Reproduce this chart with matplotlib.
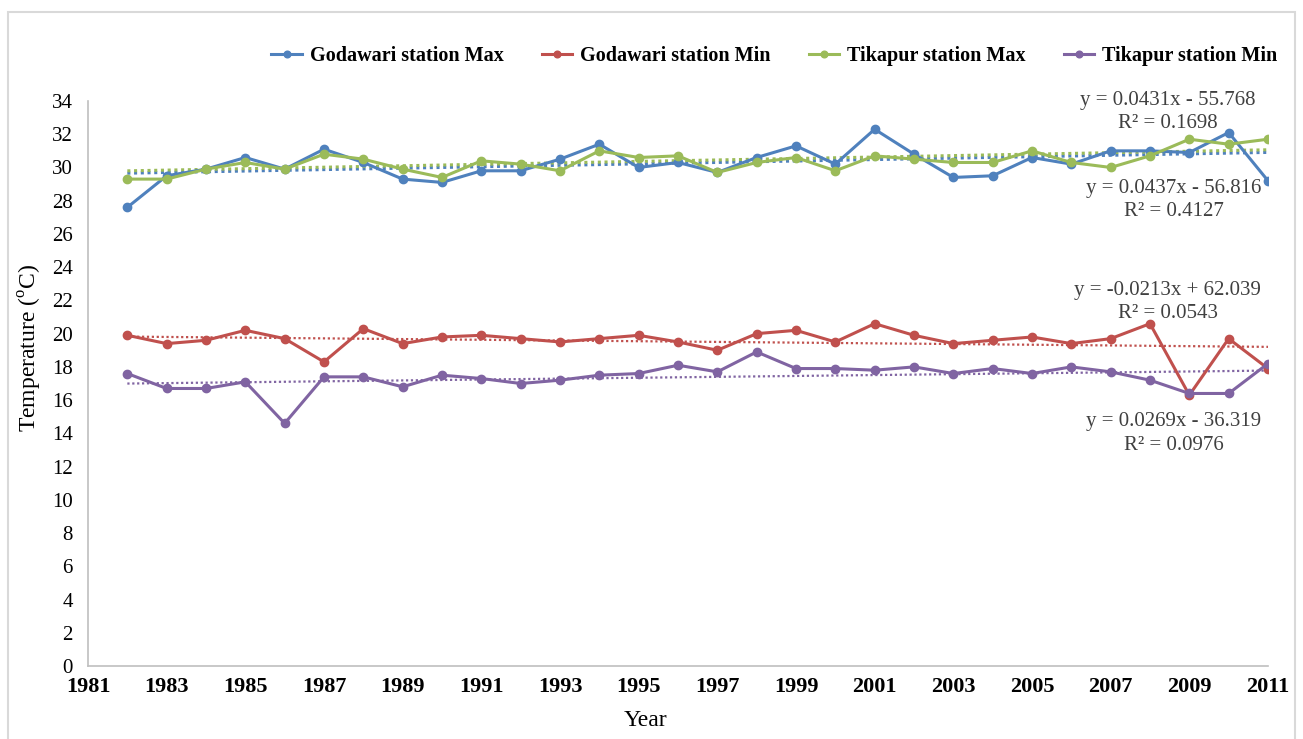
import numpy as np
import matplotlib.pyplot as plt
from matplotlib.patches import Rectangle

# Annual mean temperatures for the two stations, 1982-2011
years = np.arange(1982, 2012)

godawari_max = [27.6, 29.5, 29.9, 30.6, 29.9, 31.1, 30.3, 29.3, 29.1, 29.8,
                29.8, 30.5, 31.4, 30.0, 30.3, 29.7, 30.6, 31.3, 30.2, 32.3,
                30.8, 29.4, 29.5, 30.6, 30.2, 31.0, 31.0, 30.9, 32.1, 29.2]
godawari_min = [19.9, 19.4, 19.6, 20.2, 19.7, 18.3, 20.3, 19.4, 19.8, 19.9,
                19.7, 19.5, 19.7, 19.9, 19.5, 19.0, 20.0, 20.2, 19.5, 20.6,
                19.9, 19.4, 19.6, 19.8, 19.4, 19.7, 20.6, 16.3, 19.7, 17.9]
tikapur_max = [29.3, 29.3, 29.9, 30.3, 29.9, 30.8, 30.5, 29.9, 29.4, 30.4,
               30.2, 29.8, 31.0, 30.6, 30.7, 29.7, 30.3, 30.6, 29.8, 30.7,
               30.5, 30.3, 30.3, 31.0, 30.3, 30.0, 30.7, 31.7, 31.4, 31.7]
tikapur_min = [17.6, 16.7, 16.7, 17.1, 14.6, 17.4, 17.4, 16.8, 17.5, 17.3,
               17.0, 17.2, 17.5, 17.6, 18.1, 17.7, 18.9, 17.9, 17.9, 17.8,
               18.0, 17.6, 17.9, 17.6, 18.0, 17.7, 17.2, 16.4, 16.4, 18.2]

series_names = ["Godawari station Max", "Godawari station Min",
                "Tikapur station Max", "Tikapur station Min"]
series_values = [godawari_max, godawari_min, tikapur_max, tikapur_min]
series_colors = ["#4F81BD", "#C0504D", "#9BBB59", "#8064A2"]

# Linear trend coefficients (slope, intercept) per series
trend_slopes = [0.0431, -0.0213, 0.0437, 0.0269]
trend_intercepts = [-55.768, 62.039, -56.816, -36.319]
trend_r2 = [0.1698, 0.0543, 0.4127, 0.0976]
# where each equation box sits (year, temperature)
label_pos = [(2008.45, 33.36), (2008.45, 21.9), (2008.6, 28.04), (2008.6, 13.99)]

plt.rcParams["font.family"] = ["Liberation Serif", "DejaVu Serif"]
plt.rcParams["mathtext.fontset"] = "custom"
plt.rcParams["mathtext.rm"] = "Liberation Serif"

fig = plt.figure(figsize=(13.03, 7.39), dpi=100)
fig.patches.append(Rectangle((8 / 1303, -0.05), 1287 / 1303, 1.0 - 12 / 739 + 0.05,
                             transform=fig.transFigure, fill=False,
                             edgecolor="#d9d9d9", linewidth=1.5))

ax = fig.add_axes([88 / 1303, 73 / 739, 1180 / 1303, 565 / 739])

handles = []
for name, vals, col in zip(series_names, series_values, series_colors):
    h, = ax.plot(years, vals, color=col, linewidth=2.2, marker="o",
                 markersize=6, label=name, zorder=3)
    handles.append(h)

for slope, icpt, col, i in zip(trend_slopes, trend_intercepts, series_colors, range(4)):
    xs = np.array([years[0], years[-1]])
    lw = 2.2 if i in (0, 2) else 1.6
    ax.plot(xs, slope * xs + icpt, linestyle=(0, (1, 1.2)), color=col,
            linewidth=lw, zorder=2)

for slope, icpt, r2, (tx, ty) in zip(trend_slopes, trend_intercepts, trend_r2, label_pos):
    sign = "-" if icpt < 0 else "+"
    txt = f"y = {slope:.4f}x {sign} {abs(icpt):.3f}\nR² = {r2:.4f}"
    ax.text(tx, ty, txt, ha="center", va="center", fontsize=15,
            color="#404040", linespacing=1.3, zorder=4)

ax.set_xlim(1981, 2011)
ax.set_ylim(0, 34)
ax.set_xticks(np.arange(1981, 2012, 2))
ax.set_yticks(np.arange(0, 35, 2))
ax.tick_params(axis="both", length=0, colors="#000000")
ax.tick_params(axis="y", pad=11, labelsize=15)
ax.tick_params(axis="x", pad=8, labelsize=16)
for lab in ax.get_xticklabels():
    lab.set_fontweight("bold")

for side in ("top", "right"):
    ax.spines[side].set_visible(False)
for side in ("left", "bottom"):
    ax.spines[side].set_color("#bfbfbf")
    ax.spines[side].set_linewidth(1.2)

fig.text(645 / 1303, 1 - 720 / 739, "Year", ha="center", va="center", fontsize=17)
fig.text(30 / 1303, 1 - 348 / 739, r"Temperature ($^{\mathrm{o}}$C)", ha="center",
         va="center", rotation=90, fontsize=17)

fig.legend(handles=handles, loc="center", bbox_to_anchor=(0.5944, 1 - 56 / 739),
           ncol=4, frameon=False, prop={"weight": "bold", "size": 14.5},
           handlelength=1.5, columnspacing=1.9, handletextpad=0.4, markerscale=0.8)

fig.savefig("out.png", dpi=100, facecolor="white")
